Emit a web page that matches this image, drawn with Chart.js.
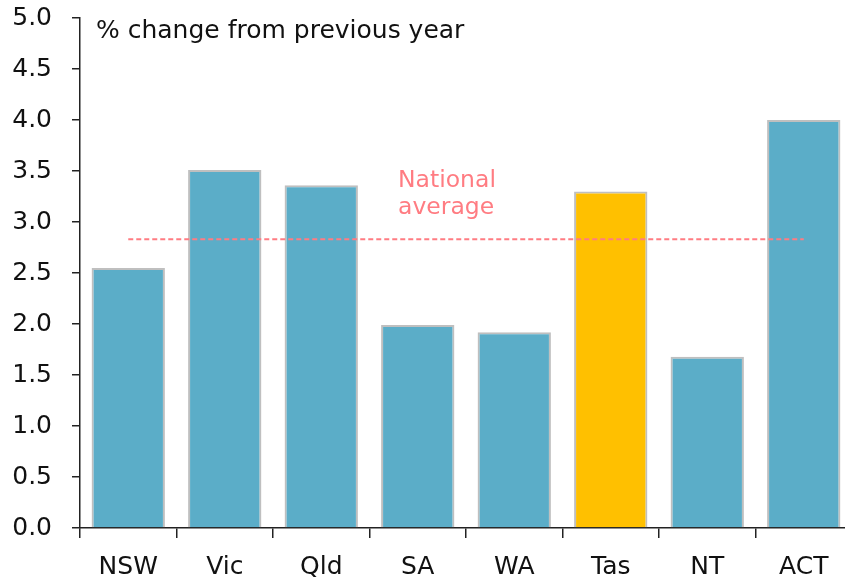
<!DOCTYPE html>
<html>
<head>
<meta charset="utf-8">
<script src="https://cdn.jsdelivr.net/npm/chart.js@4/dist/chart.umd.min.js"></script>
<style>
  html, body { margin: 0; padding: 0; overflow: hidden; background: #fff; }
  #wrap { width: 852px; height: 580px; }
</style>
</head>
<body>
<div id="wrap"><canvas id="myChart"></canvas></div>
<script>
// data
const states = ["NSW", "Vic", "Qld", "SA", "WA", "Tas", "NT", "ACT"];
const changes = [2.55, 3.51, 3.36, 1.99, 1.92, 3.30, 1.68, 4.0];
const nationalAverage = 2.83;
const highlightState = "Tas";
const yTicks = [0, 0.5, 1, 1.5, 2, 2.5, 3, 3.5, 4, 4.5, 5];

const FONT = "'DejaVu Sans', sans-serif";
const blue = "#5BADC8";
const gold = "#FFC000";
const pink = "#FF7C82";

const annotations = {
  id: "annotations",
  afterDraw(chart) {
    const ctx = chart.ctx;
    ctx.save();
    ctx.font = "25px " + FONT;
    ctx.fillStyle = "#111";
    ctx.textAlign = "left";
    ctx.textBaseline = "alphabetic";
    ctx.fillText("% change from previous year", 96, 38);

    ctx.font = "23.5px " + FONT;
    ctx.fillStyle = pink;
    ctx.fillText("National", 398, 187);
    ctx.fillText("average", 398, 214);
    ctx.restore();
  },
};

const ctx = document.getElementById("myChart").getContext("2d");
new Chart(ctx, {
  data: {
    labels: states,
    datasets: [
      {
        type: "line",
        label: "National average",
        data: states.map(() => nationalAverage),
        borderColor: pink,
        borderWidth: 2,
        borderDash: [5, 3],
        pointRadius: 0,
        order: 0,
      },
      {
        type: "bar",
        label: "% change",
        data: changes,
        backgroundColor: states.map((s) => (s === highlightState ? gold : blue)),
        borderColor: "#BFBFBF",
        borderWidth: 2,
        barPercentage: 0.76,
        categoryPercentage: 1,
        order: 1,
      },
    ],
  },
  options: {
    responsive: true,
    maintainAspectRatio: false,
    animation: false,
    layout: { padding: { top: 18, right: 0, left: 0, bottom: 0 } },
    plugins: {
      legend: { display: false },
      tooltip: { enabled: false },
    },
    scales: {
      x: {
        grid: {
          offset: true,
          drawOnChartArea: false,
          drawTicks: true,
          tickLength: 10,
          color: "#222",
          lineWidth: 1.5,
        },
        border: { display: true, color: "#222", width: 1.5 },
        ticks: {
          color: "#111",
          font: { family: FONT, size: 25 },
          padding: 14,
          maxRotation: 0,
        },
        afterFit: (s) => {
          s.height = 52;
          s.paddingLeft = 0;
          s.paddingRight = 0;
        },
      },
      y: {
        min: 0,
        max: 5,
        afterBuildTicks: (s) => {
          s.ticks = yTicks.map((v) => ({ value: v }));
        },
        grid: {
          drawOnChartArea: false,
          drawTicks: true,
          tickLength: 8,
          color: "#222",
          lineWidth: 1.5,
        },
        border: { display: true, color: "#222", width: 1.5 },
        ticks: {
          color: "#111",
          font: { family: FONT, size: 25 },
          padding: 20,
          callback: (v) => Number(v).toFixed(1),
        },
        afterFit: (s) => {
          s.width = 80;
          s.paddingTop = 0;
          s.paddingBottom = 0;
        },
      },
    },
  },
  plugins: [annotations],
});
</script>
</body>
</html>
